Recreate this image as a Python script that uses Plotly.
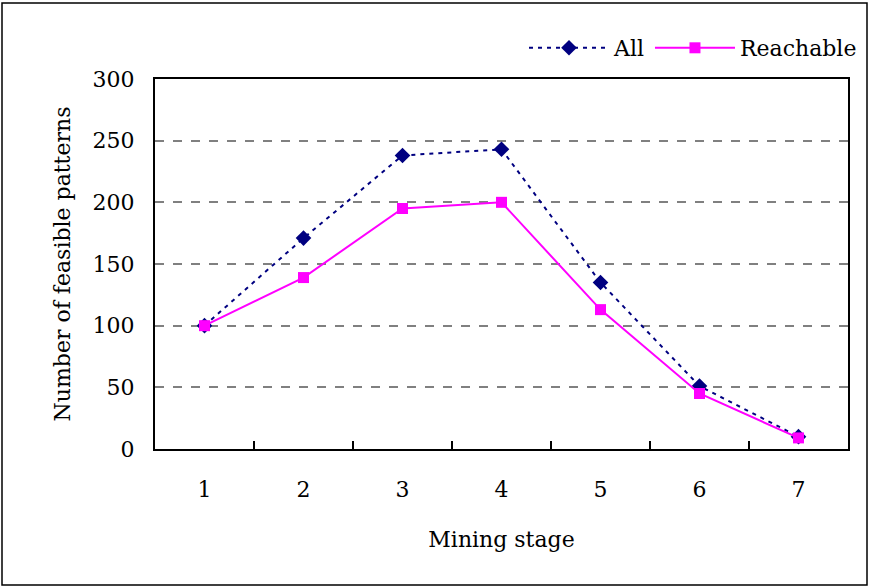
import plotly.graph_objects as go

stages = ["1", "2", "3", "4", "5", "6", "7"]
all_vals = [100, 171, 238, 243, 135, 51, 10]
reachable_vals = [100, 139, 195, 200, 113, 45, 9]

W, H = 869, 587
L, R, T, B = 155, 21, 79, 138
pw, ph = W - L - R, H - T - B

FONT = "DejaVu Serif"
FS = 22

fig = go.Figure()
fig.add_trace(go.Scatter(
    x=stages, y=all_vals, name="All", mode="lines+markers",
    line=dict(color="#000080", width=2, dash="4px,5px"),
    marker=dict(symbol="diamond", size=12, color="#000080"),
))
fig.add_trace(go.Scatter(
    x=stages, y=reachable_vals, name="Reachable", mode="lines+markers",
    line=dict(color="#FF00FF", width=2),
    marker=dict(symbol="square", size=11, color="#FF00FF"),
))

def px_x(p):
    return (p - L) / pw

def px_y(p):
    return (H - B - p) / ph

fig.add_shape(type="rect", xref="paper", yref="paper",
              x0=px_x(2), x1=px_x(867), y0=px_y(585), y1=px_y(3),
              line=dict(color="black", width=1.5), layer="below")

fig.update_layout(
    width=W, height=H,
    margin=dict(l=L, r=R, t=T, b=B, autoexpand=False),
    paper_bgcolor="white", plot_bgcolor="white",
    font=dict(family=FONT, size=FS, color="black"),
    showlegend=True,
    legend=dict(orientation="h", x=px_x(862), xanchor="right", y=px_y(48), yanchor="middle",
                font=dict(family=FONT, size=FS), bgcolor="rgba(0,0,0,0)",
                itemwidth=80, tracegroupgap=0),
    xaxis=dict(
        type="category", range=[-0.5, 6.5], tickson="boundaries", ticks="inside", ticklen=8,
        tickwidth=1.5, tickcolor="black",
        showline=True, linecolor="black", linewidth=2, mirror=True,
        showgrid=False, ticklabelstandoff=20,
        title=dict(text="Mining stage", standoff=30, font=dict(family=FONT, size=FS)),
    ),
    yaxis=dict(
        range=[0, 300], tickvals=[0, 50, 100, 150, 200, 250, 300],
        showline=True, linecolor="black", linewidth=2, mirror=True,
        showgrid=True, gridcolor="#808080", griddash="dash", gridwidth=1.5,
        zeroline=False, ticks="", ticklabelstandoff=14,
        title=dict(text="Number of feasible patterns", standoff=16, font=dict(family=FONT, size=FS)),
    ),
)

fig.write_html("out.html")
